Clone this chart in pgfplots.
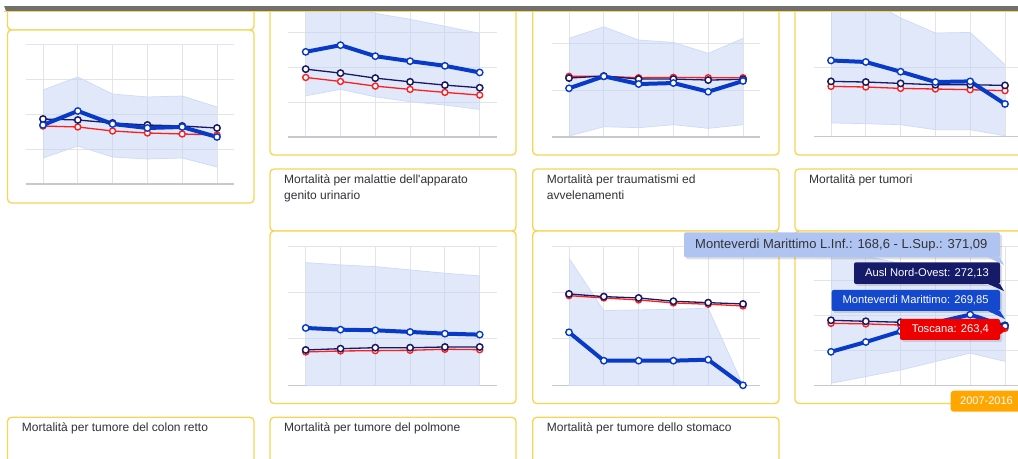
\documentclass[border=0pt]{standalone}
\usepackage{fontspec}
\setmainfont{Liberation Sans}[Ligatures=TeXOff]
\usepackage{pgfplots}
\usepackage{pgfplotstable}
\pgfplotsset{compat=1.18}

\definecolor{cardc}{RGB}{248,212,84}
\definecolor{barc}{RGB}{112,112,112}
\definecolor{gridc}{RGB}{228,228,232}
\definecolor{axisc}{RGB}{200,200,208}
\definecolor{bandc}{RGB}{190,206,246}
\definecolor{bandline}{RGB}{205,218,248}
\definecolor{mvc}{RGB}{8,58,200}
\definecolor{auslc}{RGB}{24,26,100}
\definecolor{toscc}{RGB}{255,30,30}
\definecolor{txtc}{RGB}{50,50,55}
\definecolor{tipbg}{RGB}{176,196,242}
\definecolor{tipnavy}{RGB}{22,27,105}
\definecolor{tipblue}{RGB}{20,72,205}
\definecolor{tipred}{RGB}{238,0,0}
\definecolor{orangec}{RGB}{255,166,0}

% one table per small chart: x, band upper/lower, Monteverdi, Ausl, Toscana
\pgfplotstableread{
x up lo mv ausl tosc
1 268.6 74.3 168.6 185.7 165.7
2 305.7 108.6 208.6 182.9 162.9
3 257.1 77.1 171.4 174.3 151.4
4 248.6 71.4 160.0 168.6 145.7
5 251.4 74.3 162.9 165.7 142.9
6 220.0 48.6 134.3 160.0 140.0
}\tabA
\pgfplotstableread{
x up lo mv ausl tosc
1 377 118.0 243.8 194.3 170.5
2 383 136.3 262.9 182.9 159.0
3 354 115.0 231.4 168.6 145.7
4 337 101.0 217.1 158.0 136.3
5 317 91.4 203.8 148.6 127.7
6 297 79.0 184.8 141.0 120.0
}\tabB
\pgfplotstableread{
x up lo mv ausl tosc
1 211.3 2.1 104.3 126.3 130.0
2 236.2 22.0 130.0 130.6 130.0
3 207.7 20.0 113.5 124.2 127.0
4 202.8 26.3 115.6 124.2 127.8
5 179.2 18.6 97.0 122.0 127.0
6 211.3 26.3 120.0 123.5 127.0
}\tabC
\pgfplotstableread{
x up lo mv ausl tosc
1 210 19.8 110.0 79.8 72.6
2 200 18.8 107.8 78.9 71.7
3 171.3 17.3 93.8 76.9 69.7
4 149.6 10.1 78.9 75.0 68.8
5 150.5 10.1 79.8 75.0 67.8
6 103.9 1.4 47.2 74.0 66.4
}\tabD
\pgfplotstableread{
x up lo mv ausl tosc
1 264.2 0 123.5 76.1 71.8
2 259.3 0 119.8 78.9 73.9
3 255.6 0 118.5 81.0 74.6
4 248.5 0 114.9 81.0 75.4
5 241.4 0 111.2 82.5 77.6
6 235.6 0 109.1 82.5 76.7
}\tabE
\pgfplotstableread{
x up lo mv ausl tosc
1 273.7 0 114.2 196.8 193.1
2 160.8 0 53.0 191.0 188.1
3 162.3 0 53.0 188.1 183.8
4 163.8 0 53.0 181.0 177.4
5 166.0 0 55.2 178.0 174.6
6 0 0 0 175.2 170.9
}\tabF
\pgfplotstableread{
x up lo mv ausl tosc
1 480 105.8 196.2 286.7 278.0
2 470 125.0 224.3 283.8 276.3
3 450 144.0 255.0 281.0 273.0
4 430 168.0 280.0 278.0 270.0
5 400 192.5 303.0 275.0 267.0
6 371.09 168.6 269.85 272.13 263.4
}\tabG

\pgfplotsset{
  panel/.style={scale only axis, width=208.8bp,
    xmin=0.5, xmax=6.5, xtick={1,2,3,4,5,6},
    xticklabels={}, yticklabels={},
    grid=major, major grid style={gridc, line width=0.9bp},
    axis x line=bottom, axis y line=left,
    x axis line style={draw=axisc, line width=1.1bp, -},
    y axis line style={draw=none},
    major tick length=0pt, clip=true},
  bandedge/.style={draw=bandline, line width=0.7bp, mark=none, forget plot},
  tosc/.style={toscc, line width=1.3bp, mark=*, mark size=3bp,
    mark options={fill=white, draw=toscc, line width=1.4bp}},
  ausl/.style={auslc, line width=1.3bp, mark=*, mark size=3.2bp,
    mark options={fill=white, draw=auslc, line width=1.5bp}},
  mv/.style={mvc, line width=4bp, mark=*, mark size=3.2bp,
    mark options={fill=white, draw=mvc, line width=1.4bp}},
}

% #1 table, #2 left, #3 bottom, #4 height, #5 ymin, #6 ymax, #7 yticks
\newcommand{\panel}[7]{%
\begin{axis}[panel, at={(#2bp,#3bp)}, anchor=south west,
    height=#4bp, ymin=#5, ymax=#6, ytick={#7}]
  \addplot[draw=none, mark=none, stack plots=y, forget plot] table[x=x, y=lo]{#1};
  \addplot[fill=bandc, fill opacity=0.45, draw=none, mark=none, stack plots=y, forget plot]
    table[x=x, y expr=\thisrow{up}-\thisrow{lo}]{#1} \closedcycle;
  \addplot[bandedge] table[x=x, y=up]{#1};
  \addplot[bandedge] table[x=x, y=lo]{#1};
  \addplot[tosc] table[x=x, y=tosc]{#1};
  \addplot[ausl] table[x=x, y=ausl]{#1};
  \addplot[mv] table[x=x, y=mv]{#1};
\end{axis}}

\newcommand{\card}[4]{\draw[cardc, line width=1.3bp, rounded corners=4bp, fill=white]
  (#1,#2) rectangle (#3,#4);}

\begin{document}
\begin{tikzpicture}[font=\fontsize{12bp}{16bp}\selectfont]
\begin{scope}[x=1bp, y=1bp]
% cards
\card{7.5}{429}{254}{453}
\card{7.5}{256}{254}{429}
\card{270}{304}{516}{475}
\card{532.7}{304}{779}{475}
\card{795}{304}{1040}{475}
\card{270}{228}{516}{290}
\card{532.7}{228}{779}{290}
\card{795}{228}{1040}{290}
\card{270}{55.5}{516}{228}
\card{532.7}{55.5}{779}{228}
\card{795}{55.5}{1040}{228}
\card{7.5}{-20}{254}{41.7}
\card{270}{-20}{516}{41.7}
\card{532.7}{-20}{779}{41.7}

% titles
\begin{scope}[every node/.style={anchor=base west, inner sep=0pt, text=txtc}]
\node at (284,275.5) {Mortalità per malattie dell'apparato};
\node at (284,259.5) {genito urinario};
\node at (546.7,275.5) {Mortalità per traumatismi ed};
\node at (546.7,259.5) {avvelenamenti};
\node at (809,275.5) {Mortalità per tumori};
\node at (21.7,28) {Mortalità per tumore del colon retto};
\node at (284,28) {Mortalità per tumore del polmone};
\node at (546.7,28) {Mortalità per tumore dello stomaco};
\end{scope}
\end{scope}

% charts
\panel{\tabA}{25.6}{275}{140}{0}{400}{0,100,200,300,400}
\panel{\tabB}{288.3}{322}{139.7}{0}{400}{0,100,200,300,400}
\panel{\tabC}{551.6}{322}{140}{0}{300}{0,100,200,300}
\panel{\tabD}{813.6}{322.3}{138.6}{0}{200}{0,100,200}
\panel{\tabE}{288.3}{73.7}{139.3}{0}{300}{0,100,200,300}
\panel{\tabF}{551.6}{73.7}{139.3}{0}{300}{0,100,200,300}
\panel{\tabG}{813.6}{73.7}{139.3}{100}{500}{100,200,300,400,500}

\begin{scope}[x=1bp, y=1bp]
% tooltips
\fill[black, opacity=0.12, rounded corners=2bp] (686,199.7) rectangle (1002,224.7);
\fill[tipbg, rounded corners=2bp] (684,201.7) rectangle (1000,226.7);
\fill[tipbg] (988,201.7) -- (1000,201.7) -- (1004,194) -- cycle;
\node[anchor=west, inner sep=0pt, text=txtc, font=\fontsize{13bp}{15bp}\selectfont]
  at (695,214.2) {Monteverdi Marittimo L.Inf.: 168,6 - L.Sup.: 371,09};

\fill[black, opacity=0.12, rounded corners=2bp] (856,173) rectangle (1002,194.7);
\fill[tipnavy, rounded corners=2bp] (854,175) rectangle (1000,196.7);
\fill[tipnavy] (988,175) -- (1000,175) -- (1004,168) -- cycle;
\node[anchor=west, inner sep=0pt, text=white, font=\fontsize{11.2bp}{13bp}\selectfont]
  at (865,185.8) {Ausl Nord-Ovest: 272,13};

\fill[black, opacity=0.12, rounded corners=2bp] (833.7,146) rectangle (1002,167);
\fill[tipblue, rounded corners=2bp] (831.7,148) rectangle (1000,169);
\fill[tipblue] (988,148) -- (1000,148) -- (1005,140) -- cycle;
\node[anchor=west, inner sep=0pt, text=white, font=\fontsize{11.2bp}{13bp}\selectfont]
  at (842.3,158.5) {Monteverdi Marittimo: 269,85};

\fill[black, opacity=0.12, rounded corners=2bp] (902,117) rectangle (1002,138);
\fill[tipred, rounded corners=2bp] (900,119) rectangle (1000,140);
\fill[tipred] (1000,124.5) -- (1007,129.5) -- (1000,134.5) -- cycle;
\node[anchor=west, inner sep=0pt, text=white, font=\fontsize{11.2bp}{13bp}\selectfont]
  at (911.7,129.5) {Toscana: 263,4};

% period badge
\fill[orangec, rounded corners=3bp] (950.7,47.3) rectangle (1030,68.3);
\node[anchor=west, inner sep=0pt, text=white, font=\fontsize{11bp}{13bp}\selectfont]
  at (960,57.8) {2007-2016};

% top bar
\draw[cardc, line width=1.3bp] (4,447.4) -- (1018,447.4);
\fill[barc] (6,448) -- (4,453.3) -- (1030,453.3) -- (1030,448) -- cycle;
\fill[white] (-10,453.3) rectangle (1040,480);
\end{scope}
\pgfresetboundingbox
\path[use as bounding box] (0,0) rectangle (1018bp,459bp);
\end{tikzpicture}
\end{document}
